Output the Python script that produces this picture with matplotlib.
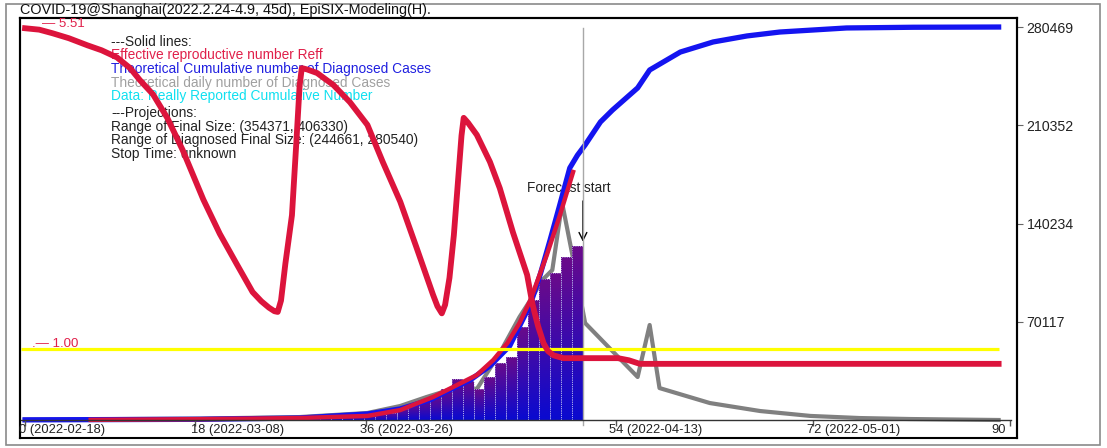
import numpy as np
import matplotlib
matplotlib.use('Agg')
import matplotlib.pyplot as plt
from matplotlib.patches import Rectangle
from matplotlib.colors import LinearSegmentedColormap

plt.rcParams['font.family'] = ['Liberation Sans', 'DejaVu Sans']

# effective reproductive number (left scale)
reff_day = [0, 1.3, 2.5, 4.0, 5.7, 7.0, 8.4, 9.6, 10.5, 11.7, 13.0, 14.4, 16.3, 17.8, 19.4,
            20.8, 21.6, 22.3, 22.8, 23.1, 23.4, 23.8, 24.4, 24.8, 25.1, 25.3, 25.8, 26.7,
            28.2, 29.7, 31.3, 32.7, 34.3, 35.8, 37.3, 37.7, 38.1, 38.4, 38.8, 39.2, 39.6,
            39.9, 40.1, 40.5, 41.3, 42.5, 43.4, 44.6, 45.9, 46.4, 46.9, 47.4, 47.8, 48.3,
            49.2, 51.2, 54.2, 55.2, 56.2, 89.0]
reff_val = [5.51, 5.49, 5.44, 5.37, 5.27, 5.20, 5.10, 4.95, 4.78, 4.58, 4.25, 3.80, 3.10,
            2.62, 2.18, 1.80, 1.67, 1.58, 1.53, 1.52, 1.68, 2.20, 2.88, 3.90, 4.70, 4.95,
            4.93, 4.88, 4.71, 4.47, 4.15, 3.63, 3.07, 2.42, 1.76, 1.60, 1.50, 1.62, 2.00,
            2.60, 3.40, 4.00, 4.25, 4.18, 4.01, 3.63, 3.26, 2.64, 2.04, 1.62, 1.32, 1.08,
            0.97, 0.91, 0.87, 0.87, 0.87, 0.84, 0.79, 0.79]

# theoretical cumulative diagnosed cases (right scale)
cum_day = [0, 16, 25.1, 31.3, 34.3, 37.0, 38.8, 40.7, 42.5, 44.3, 46.2, 47.1, 48.0, 48.9,
           49.8, 50.5, 51.2, 52.6, 53.7, 56.0, 57.1, 59.9, 62.9, 66.0, 69.0, 75.1, 81.2, 89.0]
cum_val = [100, 500, 1400, 4300, 7900, 14300, 21400, 28600, 38600, 52800, 82700, 104000,
           128500, 154000, 179900, 189000, 196300, 212700, 221200, 237000, 249800, 262600,
           269800, 274100, 276900, 279800, 280300, 280469]

# red cumulative over the data period
fit_day = [6, 16, 25.1, 31.3, 34.3, 37.3, 39.5, 41.3, 42.8, 44.1, 45.2, 46.2, 47.7, 48.9, 50.1]
fit_val = [100, 600, 1400, 2900, 7100, 16400, 25000, 32100, 42800, 55000, 69200, 85600,
           117800, 146300, 177000]

# theoretical daily diagnosed cases
daily_day = [0, 16, 25.1, 31.3, 34.3, 36.7, 37.9, 39.8, 41.3, 43.4, 45.2, 46.2, 47.3, 48.2,
             49.1, 50.0, 51.2, 56.0, 57.1, 58.0, 62.6, 67.2, 71.8, 76.3, 80.9, 89.0]
daily_val = [300, 1000, 2100, 5000, 10000, 16400, 19300, 24300, 22100, 47800, 73500, 85600,
             100000, 107000, 154900, 119200, 69200, 30700, 67800, 22800, 12100, 6400, 2900,
             1400, 700, 0]

# reported data, 2022-02-24 (day 6) .. 2022-04-09 (day 50)
bar_day = list(range(6, 51))
bar_val = [90, 100, 110, 120, 140, 160, 180, 200, 220, 250, 300, 350, 400, 450, 500, 600,
           700, 800, 900, 1100, 1300, 1500, 1800, 2100, 2900, 3600, 4300, 5000, 7900, 11400,
           14300, 17100, 22100, 29300, 27800, 22100, 30700, 40700, 45000, 66400, 85600,
           100600, 104900, 116300, 124200]

forecast_day = 51
right_ticks = [70117, 140234, 210352, 280469]
x_tick_pos = [0, 15.5, 31.2, 54, 72, 90]
x_tick_lab = ['0 (2022-02-18)', '18 (2022-03-08)', '36 (2022-03-26)',
              '54 (2022-04-13)', '72 (2022-05-01)', '90']

legend_lines = [('---Solid lines:', '#222222'),
                ('Effective reproductive number Reff', '#e0204a'),
                ('Theoretical Cumulative number of Diagnosed Cases', '#2020e0'),
                ('Theoretical daily number of Diagnosed Cases', '#a0a0a0'),
                ('Data: Really Reported Cumulative Number', '#10e0f0')]
proj_lines = ['---Projections:',
              'Range of Final Size: (354371, 406330)',
              'Range of Diagnosed Final Size: (244661, 280540)',
              'Stop Time: unknown']

W, H = 1107, 448
fig = plt.figure(figsize=(W / 100, H / 100), dpi=100)
fig.patch.set_facecolor('white')

# axes box in pixels: x 20..1017, y 18..438
ax = fig.add_axes([20 / W, 10 / H, 997 / W, 420 / H])
ax2 = ax.twinx()

cmap = LinearSegmentedColormap.from_list('barfade', ['#0a0ad0', '#6a0a8a'])
grad = np.linspace(0, 1, 64).reshape(-1, 1)

ax2.plot(daily_day, daily_val, color='#808080', lw=3.0, zorder=2, solid_joinstyle='round')

bars = ax2.bar(bar_day, bar_val, width=1.0, align='edge', facecolor='none',
               edgecolor='#c0c0f0', lw=0.6, linestyle=':', zorder=3.2)
for rect in bars:
    x0, y0 = rect.get_x(), rect.get_y()
    im = ax2.imshow(grad, cmap=cmap, origin='lower', aspect='auto', zorder=3,
                    extent=[x0, x0 + rect.get_width(), y0, y0 + rect.get_height()])
    im.set_clip_path(rect)

ax2.plot(cum_day, cum_val, color='#1414f0', lw=3.8, zorder=4, solid_joinstyle='round')
ax2.plot(fit_day, fit_val, color='#dc143c', lw=3.2, zorder=4.1, solid_joinstyle='round')

ax.set_zorder(ax2.get_zorder() + 1)
ax.patch.set_visible(False)
ax.hlines(1.0, -0.4, 89, color='#ffff00', lw=2.3, zorder=1)
ax.plot(reff_day, reff_val, color='#dc143c', lw=4.2, zorder=5, solid_joinstyle='round')

ax.set_xlim(-0.46, 90.68)
ax.set_ylim(-0.253, 5.654)
ax2.set_xlim(-0.46, 90.68)
ax2.set_ylim(-12847, 286907)

# forecast marker
ax.axvline(forecast_day, ymin=0.031, ymax=0.976, color='#a8a8a8', lw=1.0, zorder=0.5)
ax2.annotate('', xy=(forecast_day, bar_val[-1]), xytext=(0, 45), textcoords='offset pixels',
             arrowprops=dict(arrowstyle='->', color='black', lw=1.0,
                             mutation_scale=14, shrinkA=0, shrinkB=3), zorder=6)
ax2.annotate('Forecast start', xy=(forecast_day, bar_val[-1]), xytext=(-14, 58),
             textcoords='offset pixels', ha='center', va='center', fontsize=9.8,
             color='#222222')

# value labels on the left
ax.annotate('— %.2f' % reff_val[0], xy=(0, reff_val[0]), xytext=(17, 4),
            textcoords='offset pixels', color='#e0204a', fontsize=9.5, va='center')
ax.annotate('.— 1.00', xy=(0, 1.0), xytext=(7, 5), textcoords='offset pixels',
            color='#e0204a', fontsize=9.5, va='center')

# axes styling: box frame + floating x axis at zero
for s in ['left', 'top', 'right']:
    ax.spines[s].set_linewidth(1.5)
    ax2.spines[s].set_linewidth(1.5)
ax2.spines['bottom'].set_linewidth(1.5)
ax.spines['bottom'].set_position(('data', 0))
ax.spines['bottom'].set_bounds(-0.4, 90.1)
ax.spines['bottom'].set_linewidth(1.0)
ax.spines['bottom'].set_color('#333333')
ax.set_yticks([])
ax.set_xticks(x_tick_pos)
ax.tick_params(axis='x', direction='out', length=4, width=1, color='#555555',
               labelbottom=False)
for pos, lab, dx, ha in zip(x_tick_pos, x_tick_lab, [-6, -4, -6, -7, -6, -4],
                            ['left'] * 5 + ['right']):
    ax.annotate(lab, xy=(pos, 0), xytext=(dx, -10), textcoords='offset pixels',
                ha=ha, va='center', fontsize=9.3, color='#222222')

ax2.set_yticks(right_ticks)
ax2.set_yticklabels([str(v) for v in right_ticks])
ax2.tick_params(axis='y', direction='out', length=4, width=0.8, color='#666666',
                labelsize=10.2, labelcolor='#222222', pad=3)

# text block (under the curves)
for i, (s, c) in enumerate(legend_lines):
    ax.text(111 / W, 1 - (42 + i * 13.5) / H, s, color=c, fontsize=9.9,
            va='center', ha='left', zorder=0.2, transform=fig.transFigure)
for i, s in enumerate(proj_lines):
    ax.text(111 / W, 1 - (113 + i * 13.5) / H, s, color='#222222', fontsize=9.9,
            va='center', ha='left', zorder=0.2, transform=fig.transFigure)

fig.text(20 / W, 1 - 10 / H, 'COVID-19@Shanghai(2022.2.24-4.9, 45d), EpiSIX-Modeling(H).',
         fontsize=10.4, va='center', ha='left', color='#111111')

# outer frame
fig.add_artist(Rectangle((6 / W, 3 / H), 1094 / W, 441 / H, transform=fig.transFigure,
                         fill=False, edgecolor='#8a8a8a', lw=1.2))

fig.savefig('out.png', dpi=100)
